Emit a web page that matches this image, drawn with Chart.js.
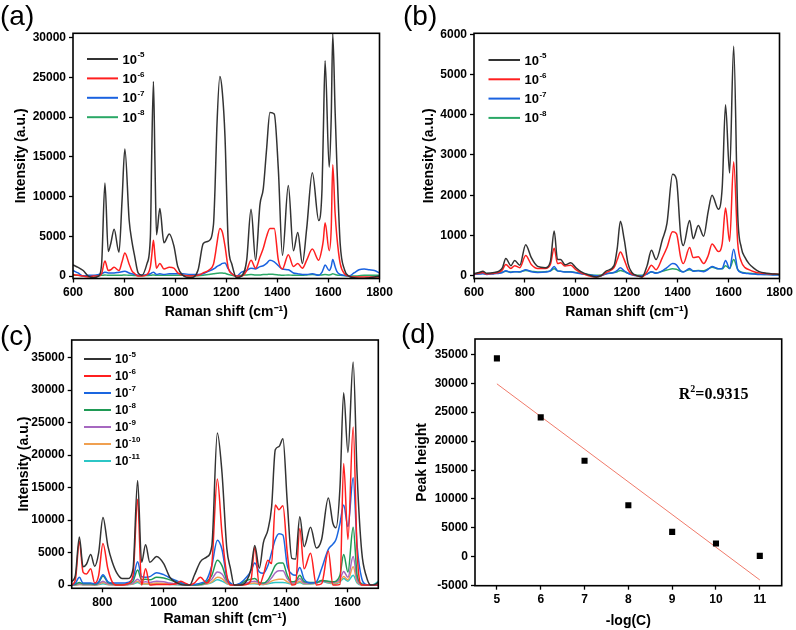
<!DOCTYPE html>
<html>
<head>
<meta charset="utf-8">
<script src="https://cdn.jsdelivr.net/npm/chart.js@4.4.1/dist/chart.umd.min.js"></script>
<style>
  html, body { margin: 0; padding: 0; background: #fff; }
  #wrap { position: relative; width: 796px; height: 630px; overflow: hidden; background: #fff; }
  canvas { position: absolute; }
  .plab { position: absolute; font-family: "Liberation Sans", Arial, sans-serif; font-size: 28px; line-height: 28px; color: #000; }
</style>
</head>
<body>
<div id="wrap">
  <canvas id="ca" width="398" height="322" style="left:0px;top:0px"></canvas>
  <canvas id="cb" width="398" height="322" style="left:398px;top:0px"></canvas>
  <canvas id="cc" width="398" height="315" style="left:0px;top:315px"></canvas>
  <canvas id="cd" width="398" height="315" style="left:398px;top:315px"></canvas>
  <div class="plab" style="left:0px;top:2px">(a)</div>
  <div class="plab" style="left:403px;top:2px">(b)</div>
  <div class="plab" style="left:0px;top:322px">(c)</div>
  <div class="plab" style="left:401px;top:320px">(d)</div>
</div>
<script>
// ---------------- DATA ----------------
// Panel (a)
const aX = [600, 620, 640, 660, 680, 700, 712, 725, 738, 748,
  761, 780, 792, 803, 820, 830, 842, 855, 870, 890,
  903, 908, 915, 921, 927, 940, 956, 977, 995, 1010,
  1030, 1060, 1090, 1110, 1130, 1150, 1156, 1163, 1175, 1185,
  1195, 1208, 1222, 1240, 1260, 1280, 1297, 1315, 1332, 1345,
  1358, 1371, 1388, 1404, 1420, 1443, 1463, 1480, 1498, 1515,
  1537, 1562, 1575, 1580, 1587, 1603, 1611, 1617, 1626, 1633,
  1646, 1663, 1680, 1700, 1720, 1740, 1760, 1780, 1800];
const aY5 = [1400, 1100, 700, 0, -200, 0, 1500, 11700, 3100, 4100,
  5900, 3000, 9500, 16000, 7000, 4500, 2400, 400, 100, 1600,
  5000, 15000, 24500, 14000, 5200, 8500, 4200, 5300, 3800, 1200,
  100, -200, 800, 4100, 4400, 6500, 11000, 18500, 25100, 23000,
  17600, 4100, 1500, -200, 0, 2000, 8400, 2000, 9000, 11000,
  16000, 20600, 20400, 13400, 2600, 11400, 3200, 5500, 1600, 6000,
  13000, 7000, 11000, 18000, 27100, 13700, 20000, 30500, 21000, 14200,
  4100, 800, 0, -200, -300, -300, -200, -100, 0];
const aY6 = [200, 100, 0, -100, 0, 0, 300, 1900, 700, 800,
  1100, 700, 1800, 2900, 1500, 700, 300, 0, 0, 200,
  1200, 2500, 4500, 2500, 1000, 1600, 900, 1100, 1000, 400,
  100, 0, 100, 400, 700, 1500, 2500, 4000, 6000, 5500,
  3800, 1000, 300, 0, 0, 700, 2000, 1000, 2400, 3500,
  5000, 6000, 6000, 2000, 900, 2700, 1200, 1600, 1000, 2000,
  3400, 2000, 3500, 4500, 6700, 3200, 6000, 14000, 8000, 5000,
  1600, 300, 0, -100, -100, -100, -100, -100, -100];
const aY7 = [700, 400, 0, 100, 100, 200, 300, 500, 400, 400,
  400, 500, 550, 600, 400, 300, 200, 100, 100, 200,
  300, 400, 500, 350, 200, 300, 200, 300, 300, 300,
  300, 200, 200, 300, 600, 900, 1000, 1200, 1400, 1600,
  1650, 900, 300, 0, 500, 700, 1000, 900, 1200, 1300,
  1600, 2000, 1800, 1300, 900, 800, 400, 300, 200, 200,
  300, 100, 500, 900, 1400, 700, 1200, 2100, 1200, 600,
  200, 100, 0, 400, 800, 900, 800, 700, 400];
const aY8 = [100, 100, 50, 50, 50, 80, 100, 150, 100, 100,
  100, 100, 120, 150, 100, 100, 80, 50, 50, 80,
  100, 120, 150, 120, 100, 100, 100, 100, 100, 100,
  100, 50, 50, 100, 200, 300, 320, 350, 400, 380,
  350, 200, 100, 0, 100, 150, 200, 150, 150, 200,
  200, 250, 200, 150, 100, 150, 100, 100, 100, 150,
  200, 150, 150, 180, 200, 150, 200, 300, 200, 150,
  100, 50, 0, 0, 50, 100, 100, 100, 100];
const abExp = ['-5', '-6', '-7', '-8'];
const abXTicks = [600, 800, 1000, 1200, 1400, 1600, 1800];
const aYTicks = [0, 5000, 10000, 15000, 20000, 25000, 30000];

// Panel (b)
const bX = [600, 620, 635, 650, 680, 700, 712, 725, 745, 760,
  780, 803, 825, 850, 880, 900, 915, 928, 940, 958,
  980, 1000, 1020, 1050, 1080, 1100, 1120, 1150, 1163, 1175,
  1190, 1205, 1220, 1240, 1260, 1280, 1297, 1315, 1340, 1358,
  1380, 1395, 1412, 1422, 1447, 1461, 1481, 1502, 1520, 1535,
  1560, 1575, 1588, 1604, 1620, 1636, 1650, 1665, 1680, 1700,
  1720, 1750, 1780, 1800];
const bY5 = [50, 80, 110, 60, 80, 120, 200, 430, 250, 380,
  260, 770, 450, 230, 200, 350, 1110, 400, 400, 270,
  320, 200, 100, 20, -30, 0, 120, 250, 700, 1350,
  900, 300, 80, 0, -30, 250, 630, 400, 900, 1300,
  2520, 2400, 1000, 750, 1370, 920, 1250, 980, 1600, 2000,
  1650, 2200, 4250, 2550, 5700, 1500, 700, 450, 300, 180,
  100, 60, 40, 30];
const bY6 = [40, 60, 80, 40, 60, 90, 150, 280, 180, 250,
  200, 500, 280, 180, 180, 280, 680, 300, 320, 240,
  260, 150, 70, 0, -30, 0, 80, 200, 400, 590,
  400, 150, 40, 0, -30, 100, 260, 150, 450, 700,
  1090, 1050, 450, 300, 700, 450, 470, 300, 500, 790,
  600, 800, 1680, 850, 2830, 800, 350, 200, 150, 100,
  70, 50, 40, 30];
const bY7 = [30, 40, 50, 30, 50, 60, 80, 120, 80, 100,
  90, 150, 100, 80, 90, 120, 230, 120, 110, 90,
  90, 70, 50, 20, 0, 0, 50, 80, 130, 200,
  120, 60, 20, 0, 0, 40, 100, 60, 120, 200,
  300, 270, 120, 90, 180, 110, 120, 100, 160, 230,
  170, 180, 380, 180, 660, 150, 80, 60, 50, 40,
  30, 30, 20, 20];
const bY8 = [40, 50, 60, 40, 60, 70, 90, 110, 90, 100,
  100, 130, 110, 90, 100, 120, 170, 120, 110, 100,
  100, 80, 60, 30, 10, 20, 50, 80, 100, 130,
  100, 60, 30, 10, 10, 50, 90, 70, 110, 140,
  170, 160, 110, 100, 150, 120, 130, 120, 170, 210,
  170, 170, 250, 180, 400, 150, 90, 70, 60, 50,
  40, 30, 30, 30];
const bYTicks = [0, 1000, 2000, 3000, 4000, 5000, 6000];

// Panel (c)
const cX = [700, 712, 725, 737, 748, 762, 775, 788, 802, 818,
  832, 848, 865, 882, 900, 915, 928, 941, 955, 977,
  1000, 1020, 1040, 1055, 1070, 1085, 1100, 1120, 1140, 1157,
  1175, 1190, 1206, 1218, 1230, 1250, 1270, 1285, 1297, 1312,
  1325, 1340, 1352, 1364, 1376, 1389, 1403, 1418, 1430, 1444,
  1458, 1479, 1498, 1515, 1537, 1552, 1562, 1575, 1587, 1601,
  1618, 1631, 1646, 1660, 1675, 1690, 1700];
const cY5 = [500, 1500, 7400, 2800, 3200, 4700, 2900, 5000, 10400, 6000,
  3600, 1800, 1000, 1000, 2500, 16100, 3500, 6200, 3500, 4400,
  3300, 1200, 400, 100, 0, 0, 1500, 3600, 4300, 6000,
  23400, 17400, 5600, 2500, 0, 0, 600, 2500, 6100, 2600,
  6500, 8500, 12000, 20800, 21300, 22500, 12800, 4100, 4000, 10500,
  5900, 8900, 5700, 7000, 13400, 9500, 8800, 15000, 29600, 20400,
  34300, 16900, 5100, 1500, 0, 100, 400];
const cY6 = [0, 800, 6700, 2000, 1700, 2500, 300, 1500, 6400, 2500,
  500, 0, 0, 200, 1500, 13200, 0, 2500, 0, 100,
  100, 100, 200, 600, 300, 0, 300, 1200, 300, 3000,
  16300, 8000, 1500, 0, 0, 0, 100, 800, 5800, 0,
  1500, 3800, 3300, 12300, 11600, 12200, 5000, 0, 100, 8700,
  2500, 4900, 0, 200, 5200, 0, 0, 100, 18700, 7000,
  24300, 5000, 0, 0, 0, 0, 0];
const cY7 = [0, 300, 1200, 300, 300, 300, 200, 500, 1600, 500,
  300, 300, 300, 400, 1000, 3600, 1300, 1200, 1300, 1900,
  1600, 1100, 700, 400, 200, 0, 100, 300, 800, 3000,
  6900, 5500, 1200, 300, 0, 300, 1200, 2200, 3400, 2000,
  1800, 3000, 5000, 7000, 7900, 7700, 3000, 1700, 1500, 2700,
  900, 300, 500, 2500, 5500, 6300, 7000, 9500, 12300, 9000,
  16500, 6000, 1000, 100, 0, 0, 0];
const cY8 = [0, 100, 400, 200, 200, 200, 100, 400, 1400, 400,
  200, 100, 100, 200, 600, 2300, 800, 900, 800, 1200,
  1100, 800, 500, 300, 100, 0, 0, 100, 500, 1500,
  3800, 3000, 800, 200, 0, 200, 700, 900, 1000, 400,
  300, 800, 1800, 3000, 3400, 3400, 1500, 500, 600, 1500,
  500, 400, 400, 700, 600, 500, 600, 1500, 4700, 2000,
  8900, 1500, 200, 0, 0, 0, 0];
const cY9 = [0, 50, 200, 100, 100, 100, 50, 200, 600, 200,
  100, 50, 50, 100, 300, 900, 400, 500, 400, 600,
  500, 300, 200, 100, 50, 0, 0, 100, 300, 900,
  2000, 1700, 500, 100, 0, 100, 300, 500, 600, 300,
  200, 500, 1100, 1900, 2200, 2200, 1000, 300, 400, 1000,
  300, 300, 300, 600, 500, 400, 500, 900, 2100, 1200,
  4400, 800, 100, 0, 0, 0, 0];
const cY10 = [0, 0, 100, 50, 50, 50, 0, 100, 400, 100,
  50, 0, 0, 50, 200, 600, 200, 200, 200, 300,
  250, 150, 100, 50, 0, 0, 0, 50, 200, 500,
  1200, 1000, 300, 50, 0, 50, 200, 250, 300, 150,
  100, 300, 600, 800, 900, 900, 500, 200, 250, 600,
  200, 200, 300, 700, 400, 300, 300, 600, 1300, 800,
  2800, 500, 50, 0, 0, 0, 100];
const cY11 = [0, 0, 100, 50, 50, 50, 0, 80, 200, 80,
  50, 0, 0, 50, 150, 400, 150, 150, 150, 200,
  150, 100, 50, 0, 0, 0, 0, 50, 150, 400,
  800, 600, 200, 50, 0, 50, 150, 200, 200, 100,
  100, 200, 300, 400, 400, 400, 300, 150, 200, 400,
  150, 150, 300, 600, 300, 200, 200, 500, 1000, 600,
  1500, 300, 0, 0, 0, 200, 600];
const cExp = ['-5', '-6', '-7', '-8', '-9', '-10', '-11'];
const cXTicks = [800, 1000, 1200, 1400, 1600];
const cYTicks = [0, 5000, 10000, 15000, 20000, 25000, 30000, 35000];

// Panel (d)
const dX = [5, 6, 7, 8, 9, 10, 11];
const dY = [34300, 24100, 16600, 8900, 4300, 2300, 150];
const dFitX = [5, 11];
const dFitY = [29900, -4000];
const dR2 = '0.9315';
const dXTicks = [5, 6, 7, 8, 9, 10, 11];
const dYTicks = [-5000, 0, 5000, 10000, 15000, 20000, 25000, 30000, 35000];

// ---------------- STYLE ----------------
const FONT = '"Liberation Sans", Arial, Helvetica, sans-serif';
Chart.defaults.font.family = FONT;
Chart.defaults.font.size = 12;
Chart.defaults.font.weight = 'bold';
Chart.defaults.color = '#000';

const colsAB = ['#333333', '#ff1f1f', '#1a62e0', '#2aa866'];
const colsC = ['#333333', '#ff1f1f', '#1a66e0', '#1f9a55', '#a668c0', '#f0a050', '#2cc6c6'];

const framePlugin = {
  id: 'frameBox',
  afterDatasetsDraw(chart) {
    const {ctx, chartArea: a} = chart;
    ctx.save();
    ctx.strokeStyle = '#000';
    ctx.lineWidth = 1.6;
    ctx.strokeRect(a.left, a.top, a.right - a.left, a.bottom - a.top);
    ctx.restore();
  }
};

function supLegend(cfg, exps, colors) {
  return {
    id: 'supLegend',
    afterDraw(chart) {
      const ctx = chart.ctx;
      ctx.save();
      exps.forEach((e, i) => {
        const y = cfg.y + i * cfg.dy;
        ctx.strokeStyle = colors[i];
        ctx.lineWidth = 2;
        ctx.beginPath();
        ctx.moveTo(cfg.x, y);
        ctx.lineTo(cfg.x + cfg.len, y);
        ctx.stroke();
        ctx.fillStyle = '#000';
        ctx.textBaseline = 'middle';
        ctx.textAlign = 'left';
        ctx.font = 'bold ' + cfg.fs + 'px ' + FONT;
        const tx = cfg.x + cfg.len + cfg.gap;
        ctx.fillText('10', tx, y + 1);
        const w = ctx.measureText('10').width;
        ctx.font = 'bold ' + Math.round(cfg.fs * 0.65) + 'px ' + FONT;
        ctx.fillText(e, tx + w + 0.5, y - 4);
      });
      ctx.restore();
    }
  };
}

function axisCommon(min, max, tickVals, fixFn) {
  return {
    type: 'linear', min, max,
    afterBuildTicks: s => { s.ticks = tickVals.map(v => ({value: v})); },
    afterFit: fixFn,
    grid: {drawOnChartArea: false, drawTicks: true, tickLength: 4, tickColor: '#000', tickWidth: 1.3},
    border: {display: false},
    ticks: {padding: 3, autoSkip: false, maxRotation: 0, callback: v => String(v),
            font: {size: 12, weight: 'bold', family: FONT}, color: '#000'}
  };
}

function spectrum(id, xs, ys, colors, exps, c) {
  const datasets = ys.map((arr, i) => ({
    label: '10^' + exps[i],
    data: xs.map((x, j) => ({x: x, y: arr[j]})),
    borderColor: colors[i],
    borderWidth: 1.5,
    pointRadius: 0,
    fill: false,
    cubicInterpolationMode: 'monotone'
  }));
  const xAxis = axisCommon(c.xr[0], c.xr[1], c.xt, s => { s.height = c.xh; });
  xAxis.title = {display: true, text: 'Raman shift (cm\u207B\u00B9)', font: {size: 14, weight: 'bold', family: FONT},
                 color: '#000', padding: {top: 0, bottom: c.xtp}};
  const yAxis = axisCommon(c.yr[0], c.yr[1], c.yt, s => { s.width = c.yw; });
  yAxis.title = {display: true, text: 'Intensity (a.u.)', font: {size: 14, weight: 'bold', family: FONT},
                 color: '#000', padding: {top: c.ytp, bottom: 0}};
  return new Chart(document.getElementById(id), {
    type: 'line',
    data: {datasets},
    options: {
      responsive: false, animation: false, events: [],
      layout: {padding: c.pad},
      plugins: {legend: {display: false}, tooltip: {enabled: false}},
      scales: {x: xAxis, y: yAxis}
    },
    plugins: [framePlugin, supLegend(c.legend, exps, colors)]
  });
}

// (a)
spectrum('ca', aX, [aY5, aY6, aY7, aY8], colsAB, abExp, {
  xr: [600, 1800], xt: abXTicks, yr: [-300, 30550], yt: aYTicks,
  pad: {left: 0, top: 33.3, right: 18.5, bottom: 0}, xh: 43.5, yw: 73, xtp: 1.6, ytp: 12.6,
  legend: {x: 87, y: 59, dy: 19.4, len: 31, gap: 4.5, fs: 13}
});
// (b)
spectrum('cb', bX, [bY5, bY6, bY7, bY8], colsAB, abExp, {
  xr: [600, 1800], xt: abXTicks, yr: [-70, 6025], yt: bYTicks,
  pad: {left: 0, top: 33.3, right: 16.5, bottom: 0}, xh: 43.5, yw: 76, xtp: 1.6, ytp: 22.6,
  legend: {x: 90.5, y: 60, dy: 19.3, len: 31.5, gap: 4.5, fs: 13}
});
// (c)
spectrum('cc', cX, [cY5, cY6, cY7, cY8, cY9, cY10, cY11], colsC, cExp, {
  xr: [700, 1700], xt: cXTicks, yr: [-500, 37700], yt: cYTicks,
  pad: {left: 0, top: 25, right: 19.7, bottom: 0}, xh: 41.7, yw: 71.7, xtp: 2.6, ytp: 15.6,
  legend: {x: 84, y: 44, dy: 17, len: 27, gap: 4, fs: 12}
});

// (d)
const r2Plugin = {
  id: 'r2text',
  afterDraw(chart) {
    const ctx = chart.ctx;
    const xs = chart.scales.x, ys = chart.scales.y;
    const px = xs.getPixelForValue(9.15), py = ys.getPixelForValue(28000);
    ctx.save();
    ctx.fillStyle = '#000';
    ctx.textBaseline = 'middle';
    ctx.textAlign = 'left';
    ctx.font = 'bold 16px "Liberation Serif", "Times New Roman", serif';
    ctx.fillText('R', px, py);
    let w = ctx.measureText('R').width;
    ctx.font = 'bold 10px "Liberation Serif", "Times New Roman", serif';
    ctx.fillText('2', px + w, py - 5);
    w += ctx.measureText('2').width;
    ctx.font = 'bold 16px "Liberation Serif", "Times New Roman", serif';
    ctx.fillText('=' + dR2, px + w, py);
    ctx.restore();
  }
};
(function () {
  const xAxis = axisCommon(4.5, 11.5, dXTicks, s => { s.height = 44.3; });
  xAxis.title = {display: true, text: '-log(C)', font: {size: 14, weight: 'bold', family: FONT},
                 color: '#000', padding: {top: 0, bottom: 0}};
  const yAxis = axisCommon(-5000, 37650, dYTicks, s => { s.width = 77; });
  yAxis.title = {display: true, text: 'Peak height', font: {size: 14, weight: 'bold', family: FONT},
                 color: '#000', padding: {top: 16, bottom: 0}};
  new Chart(document.getElementById('cd'), {
    type: 'scatter',
    data: {
      datasets: [
        {label: 'Peak height', data: dX.map((x, i) => ({x: x, y: dY[i]})),
         pointStyle: 'rect', pointRadius: 4.3, backgroundColor: '#000', borderColor: '#000', borderWidth: 0},
        {label: 'Fit', data: dFitX.map((x, i) => ({x: x, y: dFitY[i]})), showLine: true,
         pointRadius: 0, borderColor: '#f07a6a', borderWidth: 1}
      ]
    },
    options: {
      responsive: false, animation: false, events: [],
      layout: {padding: {left: 0, top: 24, right: 14.3, bottom: 0}},
      plugins: {legend: {display: false}, tooltip: {enabled: false}},
      scales: {x: xAxis, y: yAxis}
    },
    plugins: [framePlugin, r2Plugin]
  });
})();
</script>
</body>
</html>
